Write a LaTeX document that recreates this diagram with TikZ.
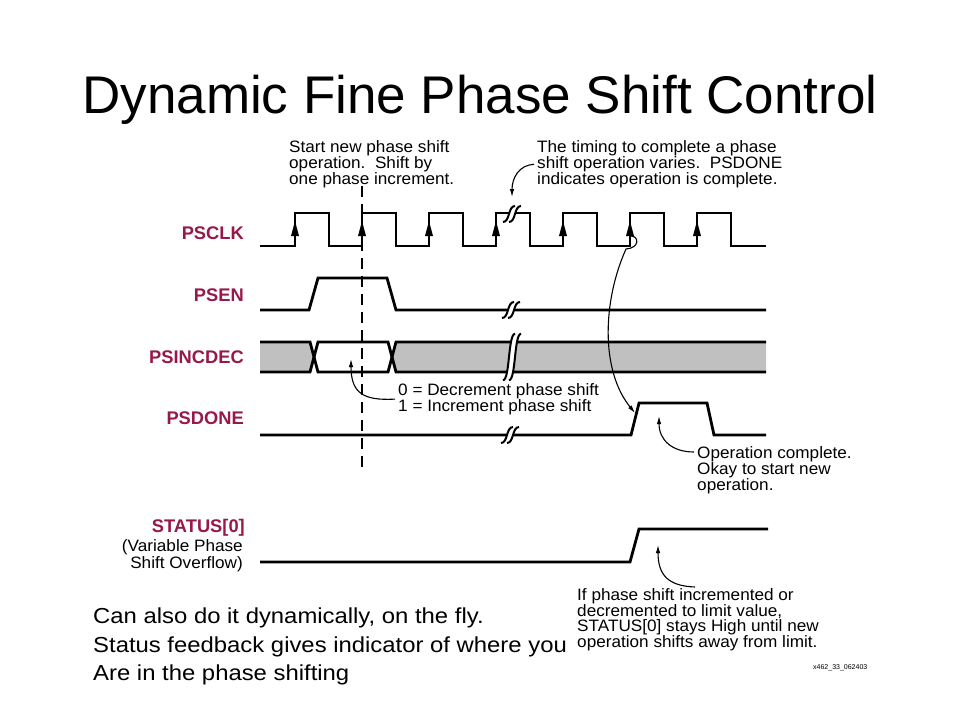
\documentclass[tikz,border=0pt]{standalone}
\usepackage{fontspec}
\setmainfont{Liberation Sans}
\newfontfamily\bodyfont[FakeStretch=1.1]{Liberation Sans}
\newfontfamily\notefont[FakeStretch=1.04]{Liberation Sans}
\usetikzlibrary{arrows.meta}
\definecolor{sigred}{RGB}{150,25,75}
\definecolor{busgray}{RGB}{192,192,192}

\begin{document}
\begin{tikzpicture}[x=1pt, y=-1pt,
  wave/.style = {line width=2.8pt, line join=miter},
  sig/.style = {anchor=east, inner sep=0pt, text=sigred, font=\fontsize{18.3}{19}\selectfont\bfseries},
  sub/.style = {anchor=base east, inner sep=0pt, font={\notefont\fontsize{16.5}{17}\selectfont}},
  ann/.style = {anchor=north west, inner sep=0pt, align=left, font={\notefont\fontsize{16.5}{15}\selectfont}},
  body/.style = {anchor=base west, inner sep=0pt, font={\bodyfont\fontsize{21.7}{29}\selectfont}},
  note/.style = {line width=1.1pt, -{Latex[length=8pt,width=4.5pt]}},
  brkline/.style = {line width=2pt},
  brk/.pic = {
    \fill[white] (-9,8) .. controls (-2,8) and (-4,-8) .. (3,-8) -- (9,-8) .. controls (2,-8) and (4,8) .. (-3,8) -- cycle;
    \draw[brkline] (-9,8) .. controls (-2,8) and (-4,-8) .. (3,-8);
    \draw[brkline] (-3,8) .. controls (4,8) and (2,-8) .. (9,-8);
  }]
\useasboundingbox (0,0) rectangle (960,720);

\node (title) at (480,113) [anchor=base, font=\fontsize{53}{60}\selectfont] {Dynamic Fine Phase Shift Control};

% signal names
\node[sig] (psclk) at (244,233) {PSCLK};
\node[sig] (psen) at (244,295) {PSEN};
\node[sig] (psincdec) at (244,357) {PSINCDEC};
\node[sig] (psdone) at (244,418) {PSDONE};
\node[sig, anchor=base east] (status) at (245,532) {STATUS[0]};
\node[sub] (statusa) at (243,551) {(Variable Phase};
\node[sub] (statusb) at (243,568) {Shift Overflow)};

% waveforms
\fill[busgray] (260,342) -- (310,342) -- (314,357) -- (310,372) -- (260,372) -- cycle;
\fill[busgray] (396,342) -- (766,342) -- (766,372) -- (396,372) -- (392,357) -- cycle;
\draw[wave] (260,246) foreach \x in {295,362,429,496,563,630,697} { -- (\x,246) -- (\x,213) -- ({\x+34},213) -- ({\x+34},246) } -- (766,246);
\foreach \x in {295,362,429,496,563,630,697}
  \fill ({\x-4},236) -- ({\x+4},236) -- (\x,221) -- cycle;
\draw[wave] (260,310) -- (309,310) -- (318,278) -- (387,278) -- (396,310) -- (766,310);
\draw[wave] (260,342) -- (310,342) -- (318,372) -- (388,372) -- (396,342) -- (766,342);
\draw[wave] (260,372) -- (310,372) -- (318,342) -- (388,342) -- (396,372) -- (766,372);
\draw[wave] (260,435) -- (631,435) -- (639,403) -- (707,403) -- (714,435) -- (766,435);
\draw[wave] (260,562) -- (630,562) -- (639,529) -- (768,529);

% breaks
\pic at (512,214) {brk};
\pic at (511,310) {brk};
\pic[yscale=2.9] at (512,357) {brk};
\pic at (510,435) {brk};

\draw[line width=1.4pt, dash pattern=on 11pt off 7pt] (362,186) -- (362,472);

% notes
\node[ann] (starttxt) at (289,140) {Start new phase shift\\operation.\ \ Shift by\\one phase increment.};
\node[ann] (timingtxt) at (537,140) {The timing to complete a phase\\shift operation varies.\ \ PSDONE\\indicates operation is complete.};
\node[ann] (incdectxt) at (398,383) {0 = Decrement phase shift\\1 = Increment phase shift};
\node[ann] (opdone) at (697,446) {Operation complete.\\Okay to start new\\operation.};
\node[ann] (limittxt) at (577,588) {If phase shift incremented or\\decremented to limit value,\\STATUS[0] stays High until new\\operation shifts away from limit.};

\coordinate (brktip) at (512,197);
\coordinate (clkrise) at (631,236);
\coordinate (donerise) at (635,413);
\coordinate (bustip) at (351,359);
\coordinate (donetip) at (659,416);
\coordinate (stattip) at (658,545);

\draw[note] ([xshift=-3pt]timingtxt.west) .. controls (519,165) and (512,178) .. (brktip);
\draw[note] (clkrise) .. controls (639,236) and (640,248) .. (626,249) .. controls (603,300) and (600,370) .. (donerise);
\draw[note] ([xshift=-3pt]incdectxt.west) .. controls (362,401) and (351,392) .. (bustip);
\draw[note] ([xshift=-3pt,yshift=-6pt]opdone.north west) .. controls (672,452) and (659,440) .. (donetip);
\draw[note] ([xshift=118pt,yshift=1pt]limittxt.north west) .. controls (668,586) and (658,575) .. (stattip);

% slide text
\node[body] (fly) at (93,623) {Can also do it dynamically, on the fly.};
\node[body] (feedback) at (93,652) {Status feedback gives indicator of where you};
\node[body] (shifting) at (93,680) {Are in the phase shifting};
\node[anchor=west, inner sep=0pt, font=\fontsize{7}{8}\selectfont] (figid) at (813,668) {x462\_33\_062403};

\end{tikzpicture}
\end{document}
